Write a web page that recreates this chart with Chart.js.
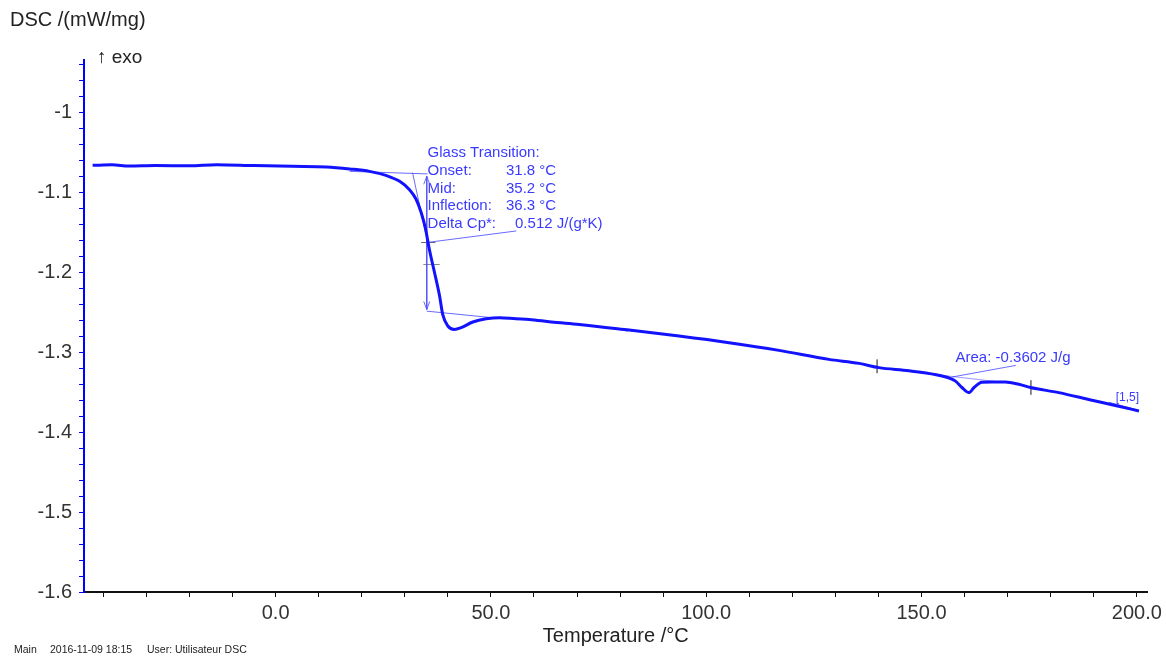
<!DOCTYPE html>
<html>
<head>
<meta charset="utf-8">
<script src="https://cdn.jsdelivr.net/npm/chart.js@4.4.1/dist/chart.umd.min.js"></script>
<style>
  body { margin: 0; background: #fff; }
  canvas { display: block; }
</style>
</head>
<body>
<canvas id="grafDSC" width="1166" height="657"></canvas>
<script>
// temperatura (°C) y señal DSC (mW/mg)
const temperaturas = [-42.5, -38, -34, -28, -20, -13.7, -5, 3.9, 11.8, 17.2, 21.8, 25.8, 28.8, 31.1, 32.6, 33.8, 34.8, 35.7, 36.9, 38.1, 38.8, 40.0, 41.5, 43.1, 45.8, 48.9, 52.0, 55.8, 58.9, 64, 70.5, 82.1, 93.7, 105.3, 116.9, 128.5, 135.5, 140.1, 147.1, 154.8, 157.9, 159.4, 161.0, 162.2, 164.0, 166.4, 169.5, 172.6, 175.3, 181.9, 189.6, 195, 200.5];
const dsc = [-1.0659, -1.0652, -1.0668, -1.0662, -1.0665, -1.065, -1.0662, -1.0671, -1.0679, -1.0704, -1.0734, -1.0788, -1.0859, -1.0963, -1.108, -1.125, -1.145, -1.171, -1.2, -1.23, -1.2525, -1.267, -1.2713, -1.269, -1.262, -1.258, -1.2566, -1.258, -1.2588, -1.262, -1.265, -1.2721, -1.2796, -1.2879, -1.2975, -1.3088, -1.3138, -1.3191, -1.323, -1.3296, -1.336, -1.344, -1.3504, -1.344, -1.3375, -1.3371, -1.3371, -1.340, -1.344, -1.3504, -1.36, -1.3665, -1.3734];

// construcción de la transición vítrea: [x1, y1, x2, y2]
const lineaBaseSup = [17.2, -1.0734, 35.3, -1.0766];
const tangente = [31.8, -1.075, 35.3, -1.1625];
const flechaDeltaCp = [35.1, -1.0796, 35.1, -1.2463];
const lineaBaseInf = [35.1, -1.2484, 49.7, -1.2563];
const guiaDeltaCp = [35.1, -1.1625, 55.9, -1.148];
const marcaMid = [33.8, -1.1625, 37.1, -1.1625];
const marcaInflexion = [34.3, -1.19, 38.1, -1.19];

// pico de fusión
const lineaArea = [149.5, -1.3255, 170.5, -1.3385];
const guiaArea = [171.9, -1.3163, 157.1, -1.3309];
const limiteIzq = [139.7, -1.309, 139.7, -1.326];
const limiteDer = [175.4, -1.335, 175.4, -1.353];
const guiaSegmento = [193.5, -1.3625, 199.5, -1.371];

const textosTg = [
    ['Glass Transition:', '', -1.0504],
    ['Onset:', '31.8 °C', -1.0734],
    ['Mid:', '35.2 °C', -1.0954],
    ['Inflection:', '36.3 °C', -1.1163],
    ['Delta Cp*:', '0.512 J/(g*K)', -1.1388],
];

const fuente = 'Liberation Sans, Arial, sans-serif';
const azulTexto = '#3a3aff';

function segmento(s, color) {
    return {
        data: [{x: s[0], y: s[1]}, {x: s[2], y: s[3]}],
        borderColor: color || 'rgba(80,80,255,0.85)',
        borderWidth: 1,
        pointRadius: 0,
        tension: 0,
    };
}

function rayado() {
    const c = document.createElement('canvas');
    c.width = 6; c.height = 6;
    const g = c.getContext('2d');
    g.strokeStyle = 'rgba(90,90,255,0.55)';
    g.lineWidth = 1;
    g.beginPath();
    g.moveTo(0, 6); g.lineTo(6, 0);
    g.stroke();
    return g.createPattern(c, 'repeat');
}

const textosPlugin = {
    id: 'textos',
    afterDraw(chart) {
        const {ctx, scales: {x, y}} = chart;
        ctx.save();
        ctx.textBaseline = 'middle';
        ctx.textAlign = 'left';

        ctx.fillStyle = '#222';
        ctx.font = '20px ' + fuente;
        ctx.fillText('DSC /(mW/mg)', 10, 20);
        ctx.font = '19px ' + fuente;
        ctx.fillText('\u2191 exo', 97, 58);

        ctx.font = '10.5px ' + fuente;
        ctx.fillText('Main', 14, 650);
        ctx.fillText('2016-11-09 18:15', 50, 650);
        ctx.fillText('User: Utilisateur DSC', 147, 650);

        ctx.fillStyle = azulTexto;
        ctx.font = '15px ' + fuente;
        textosTg.forEach(([etiqueta, valor, yv], i) => {
            ctx.fillText(etiqueta, x.getPixelForValue(35.3), y.getPixelForValue(yv));
            if (valor) {
                const xv = i === 4 ? 55.6 : 53.5;
                ctx.fillText(valor, x.getPixelForValue(xv), y.getPixelForValue(yv));
            }
        });
        ctx.fillText('Area: -0.3602 J/g', x.getPixelForValue(157.9), y.getPixelForValue(-1.3066));
        ctx.font = '12px ' + fuente;
        ctx.fillText('[1,5]', x.getPixelForValue(195.1), y.getPixelForValue(-1.3566));

        // puntas de la flecha doble
        const ax = x.getPixelForValue(flechaDeltaCp[0]);
        const ay1 = y.getPixelForValue(flechaDeltaCp[1]);
        const ay2 = y.getPixelForValue(flechaDeltaCp[3]);
        ctx.strokeStyle = 'rgba(80,80,255,0.85)';
        ctx.lineWidth = 1;
        ctx.beginPath();
        ctx.moveTo(ax - 3, ay1 + 8); ctx.lineTo(ax, ay1); ctx.lineTo(ax + 3, ay1 + 8);
        ctx.moveTo(ax - 3, ay2 - 8); ctx.lineTo(ax, ay2); ctx.lineTo(ax + 3, ay2 - 8);
        ctx.stroke();
        ctx.restore();
    }
};

const areaPico = segmento(lineaArea, 'rgba(80,80,255,0.6)');
areaPico.fill = {target: 0, above: 'rgba(0,0,0,0)', below: rayado()};

new Chart(document.getElementById('grafDSC'), {
    type: 'line',
    data: {
        datasets: [
            {
                data: temperaturas.map((t, i) => ({x: t, y: dsc[i]})),
                borderColor: '#1212ff',
                borderWidth: 3,
                pointRadius: 0,
                cubicInterpolationMode: 'monotone',
            },
            segmento(lineaBaseSup),
            segmento(tangente),
            segmento(flechaDeltaCp),
            segmento(lineaBaseInf),
            segmento(guiaDeltaCp),
            segmento(marcaMid, '#666'),
            segmento(marcaInflexion, '#888'),
            areaPico,
            segmento(guiaArea),
            segmento(limiteIzq, '#777'),
            segmento(limiteDer, '#777'),
            segmento(guiaSegmento),
        ]
    },
    options: {
        responsive: false,
        animation: false,
        layout: {padding: {top: 60, right: 17, left: 0, bottom: 0}},
        plugins: {legend: {display: false}, tooltip: {enabled: false}},
        scales: {
            x: {
                type: 'linear',
                min: -44.5,
                max: 202.5,
                afterFit: (s) => { s.height = 65; },
                border: {color: '#111', width: 2},
                grid: {drawOnChartArea: false, tickLength: 5, color: '#111'},
                ticks: {
                    stepSize: 10,
                    includeBounds: false,
                    autoSkip: false,
                    maxRotation: 0,
                    padding: 4,
                    color: '#333',
                    font: {family: fuente, size: 20},
                    callback: (v) => v % 50 === 0 ? v.toFixed(1) : '',
                },
                title: {
                    display: true,
                    text: 'Temperature /°C',
                    color: '#222',
                    font: {family: fuente, size: 20},
                    padding: {top: 0, bottom: 9},
                },
            },
            y: {
                type: 'linear',
                min: -1.6,
                max: -0.934,
                afterFit: (s) => { s.width = 84; },
                border: {color: '#0000ff', width: 2},
                grid: {drawOnChartArea: false, tickLength: 5, color: '#0000ff'},
                ticks: {
                    stepSize: 0.02,
                    includeBounds: false,
                    autoSkip: false,
                    padding: 7,
                    color: '#333',
                    font: {family: fuente, size: 20},
                    callback: (v) => Math.abs(v * 10 - Math.round(v * 10)) < 1e-6 ? String(Math.round(v * 10) / 10) : '',
                },
            },
        },
    },
    plugins: [textosPlugin],
});
</script>
</body>
</html>
